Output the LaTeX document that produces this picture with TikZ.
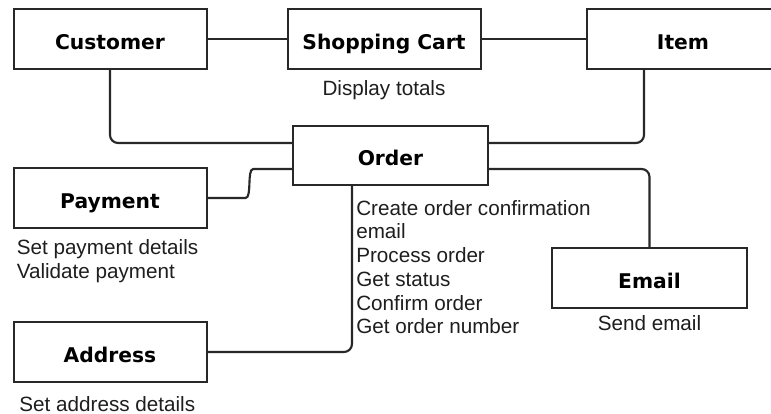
\documentclass[tikz,border=0pt]{standalone}
\usepackage{fontspec}
\setmainfont{Liberation Sans}
\newfontfamily\boxfont{DejaVu Sans}
\usepackage{xcolor}
\definecolor{LineGray}{RGB}{40,40,40}
\definecolor{TextGray}{RGB}{30,30,30}
\usetikzlibrary{positioning}

\tikzset{
	classbox/.style={draw=LineGray, line width=1.5pt, fill=white, minimum width=144.75pt, minimum height=45pt, inner sep=0pt, text height=15.5pt, text depth=0pt, font=\boxfont\bfseries\fontsize{15.2}{18}\selectfont, text=black},
	note/.style={inner sep=0pt, font=\fontsize{15.5}{17.8}\selectfont, text=TextGray, align=left},
	link/.style={draw=LineGray, line width=1.6pt, rounded corners=6pt},
}

\begin{document}
\begin{tikzpicture}[x=0.75pt, y=-0.75pt]
	\clip (0,0) rectangle (771,414);
	\fill[white] (0,0) rectangle (771,414);

	% classes
	\node[classbox] (cust)  at (110,39)     {Customer};
	\node[classbox] (cart)  at (384,39)     {Shopping Cart};
	\node[classbox] (item)  at (683,39)     {Item};
	\node[classbox, minimum width=146.25pt, minimum height=44.25pt] (order) at (390.5,155.5) {Order};
	\node[classbox] (pay)   at (110,198)    {Payment};
	\node[classbox] (addr)  at (110,352)    {Address};
	\node[classbox, minimum width=146.25pt] (email) at (649.5,278) {Email};

	% methods
	\node[note, below=8pt of cart] (carttxt) {Display totals};
	\node[note, anchor=north west] (paytxt) at ([xshift=3pt,yshift=-8pt]pay.south west) {Set payment details\\Validate payment};
	\node[note, anchor=north west] (ordertxt) at ([xshift=48pt,yshift=-10.5pt]order.south west) {Create order confirmation\\email\\Process order\\Get status\\Confirm order\\Get order number};
	\node[note, below=4.5pt of email] (emailtxt) {Send email};
	\node[note, anchor=north west, text depth=0pt] (addrtxt) at ([xshift=5pt,yshift=-10pt]addr.south west) {Set address details};

	% links
	\draw[link] (cust.east) -- (cart.west);
	\draw[link] (cart.east) -- (item.west);
	\draw[link] (cust.south) |- ([yshift=9.4pt]order.west);
	\draw[link] ([xshift=-29.25pt]item.south) |- ([yshift=9.4pt]order.east);
	\draw[link] (pay.east) -- ++(30,0) to[out=0,in=180] ([xshift=-23pt,yshift=-10.1pt]order.west) -- ([yshift=-10.1pt]order.west);
	\draw[link] ([xshift=-28.9pt]order.south) |- (addr.east);
	\draw[link] ([yshift=-10.1pt]order.east) -| (email.north);
\end{tikzpicture}
\end{document}
